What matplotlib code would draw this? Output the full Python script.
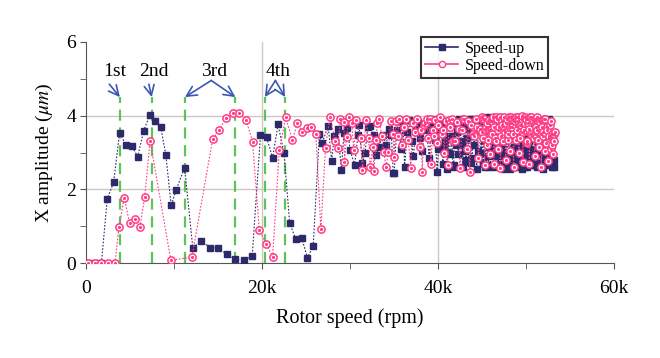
import matplotlib
matplotlib.use("Agg")
import matplotlib.pyplot as plt
from matplotlib.lines import Line2D

plt.rcParams["font.family"] = ["Liberation Serif", "DejaVu Serif"]
plt.rcParams["mathtext.fontset"] = "stix"

# ---- datos (x en miles de rpm, y en micras) ----
up_rpm_k = [0.2, 0.95, 1.7, 2.36, 3.09, 3.77, 4.46, 5.14, 5.83, 6.51, 7.2, 7.85,
            8.46, 9.03, 9.64, 10.2, 11.16, 12.1, 13.07, 14.06, 15.0, 15.96, 16.9,
            17.9, 18.86, 19.8, 20.5, 21.18, 21.8, 22.48, 23.12, 23.8, 24.5, 25.14,
            25.8, 26.5, 26.8, 27.5, 27.9, 28.2, 28.6, 29.0, 29.3, 29.7, 30.0, 30.5,
            30.9, 31.0, 31.4, 31.7, 32.0, 32.3, 32.7, 32.95, 33.3, 33.7, 34.1, 34.4,
            34.7, 34.9,
            35.0, 35.3, 35.5, 35.8, 36.0, 36.2, 36.5, 36.7, 37.0, 37.2, 37.5, 37.7,
            38.0, 38.2, 38.5, 38.7, 39.0, 39.2, 39.5, 39.7, 39.9, 40.2, 40.4, 40.7,
            40.9, 41.2, 41.4, 41.7, 41.9, 42.2, 42.4, 42.7, 42.9, 43.2, 43.4, 43.6,
            43.8, 44.0, 44.3, 44.5, 44.8,
            45.0, 45.15, 45.3, 45.45, 45.6, 45.75, 45.9, 46.05, 46.2, 46.35, 46.5,
            46.65, 46.8, 46.95, 47.1, 47.25, 47.4, 47.55, 47.7, 47.85, 48.0, 48.15,
            48.3, 48.45, 48.6, 48.75, 48.9, 49.05, 49.2, 49.35, 49.5, 49.65, 49.8,
            49.95, 50.1, 50.25, 50.4, 50.55, 50.7, 50.85, 51.0, 51.15, 51.3, 51.45,
            51.6, 51.75, 51.9, 52.05, 52.2, 52.35, 52.5, 52.65, 52.8, 52.95, 53.1,
            53.2]
up_amp = [0.0, 0.0, 0.0, 1.74, 2.19, 3.54, 3.21, 3.18, 2.89, 3.59, 4.01, 3.84,
          3.68, 2.94, 1.57, 1.98, 2.59, 0.42, 0.61, 0.42, 0.42, 0.24, 0.11,
          0.09, 0.2, 3.47, 3.41, 2.86, 3.76, 2.98, 1.09, 0.66, 0.68, 0.15,
          0.47, 3.5, 3.25, 3.72, 2.77, 3.46, 3.64, 2.53, 3.52, 3.66, 3.07, 2.66,
          3.48, 3.75, 2.71, 2.98, 3.7, 3.73, 3.48, 2.93, 3.16, 3.48, 3.2, 3.64,
          3.48, 2.44,
          2.44, 3.62, 3.85, 3.1, 3.75, 2.62, 3.55, 3.88, 3.3, 2.9, 3.7, 3.82,
          3.4, 3.05, 3.78, 3.6, 2.85, 3.72, 3.9, 3.35, 2.48, 3.6, 3.85, 3.15,
          3.7, 3.45, 2.95, 2.62, 3.8, 3.55, 3.9, 3.2, 3.75, 2.8, 3.65, 3.92,
          2.71, 3.5, 3.85, 3.05, 3.7,
          3.9, 2.75, 3.6, 3.3, 3.95, 2.6, 3.8, 3.1, 3.7, 2.9, 3.92,
          3.45, 2.65, 3.85, 3.2, 3.75, 2.7, 3.9, 3.35, 2.95, 3.8, 2.62,
          3.6, 3.05, 3.85, 2.8, 3.5, 3.9, 2.7, 3.3, 3.75, 2.9, 3.65,
          2.6, 3.88, 3.15, 2.75, 3.7, 3.4, 2.65, 3.92, 3.0, 3.6, 2.72,
          3.85, 3.25, 2.68, 3.8, 2.9, 3.55, 2.75, 3.92, 3.1, 2.62, 3.4,
          2.8]
# puntos adicionales de la nube densa (40k-53k)
up_extra_rpm_k = [40.05, 40.3, 40.55, 40.8, 41.05, 41.3, 41.55, 41.8, 42.05, 42.3,
                  42.55, 42.8, 43.05, 43.3, 43.5, 43.7, 43.9, 44.15, 44.4, 44.65,
                  44.9, 45.08, 45.22, 45.38, 45.52, 45.68, 45.82, 45.98, 46.12, 46.28,
                  46.42, 46.58, 46.72, 46.88, 47.02, 47.18, 47.32, 47.48, 47.62, 47.78,
                  47.92, 48.08, 48.22, 48.38, 48.52, 48.68, 48.82, 48.98, 49.12, 49.28,
                  49.42, 49.58, 49.72, 49.88, 50.02, 50.18, 50.32, 50.48, 50.62, 50.78,
                  50.92, 51.08, 51.22, 51.38, 51.52, 51.68, 51.82, 51.98, 52.12, 52.28,
                  52.42, 52.58, 52.72, 52.88, 53.02, 53.15]
up_extra_amp = [3.1, 3.75, 2.7, 3.35, 2.55, 3.0, 3.45, 2.65, 3.2, 2.95,
                3.3, 2.6, 3.05, 3.4, 2.75, 3.9, 2.85, 3.2, 2.55, 3.9,
                3.0, 2.7, 3.35, 2.6, 3.92, 2.9, 3.15, 2.65, 3.9, 3.0,
                2.6, 3.25, 3.85, 2.7, 3.95, 2.9, 3.1, 2.55, 3.92, 3.3,
                2.7, 3.0, 2.55, 3.4, 2.85, 3.15, 2.6, 3.35, 2.9, 2.7,
                3.2, 2.55, 3.05, 3.4, 2.75, 2.6, 3.3, 2.9, 3.1, 2.65,
                2.85, 3.4, 2.6, 3.2, 2.95, 2.7, 3.35, 2.55, 3.1, 2.8,
                3.0, 2.65, 3.3, 2.75, 2.9, 2.6]

down_rpm_k = [0.19, 0.95, 1.71, 2.48, 3.24, 3.7, 4.3, 4.9, 5.5, 6.06, 6.63, 7.24,
              9.6, 12.0, 14.36, 15.12, 15.89, 16.65, 17.4, 18.17, 18.9, 19.66,
              20.46, 21.18, 21.94, 22.67, 23.43, 24.0, 24.57, 25.07, 25.6, 26.1,
              26.67, 27.2, 27.7, 28.3, 28.6, 28.9, 29.3, 29.35, 29.6, 29.9, 30.2,
              30.4, 30.7, 31.2, 31.4, 31.8, 32.1, 32.3, 32.6, 32.7, 32.95, 33.1,
              33.3, 33.6, 33.8, 34.1, 34.35, 34.6, 34.9,
              35.0, 35.2, 35.4, 35.6, 35.9, 36.1, 36.4, 36.6, 36.9, 37.1, 37.4,
              37.6, 37.9, 38.2, 38.4, 38.7, 38.9, 39.2, 39.4, 39.7, 39.9, 40.2,
              40.4, 40.7, 40.9, 41.1, 41.4, 41.6, 41.9, 42.2, 42.5, 42.7, 43.0,
              43.3, 43.6, 43.8, 44.1, 44.3, 44.6, 44.8,
              45.0, 45.15, 45.3, 45.45, 45.6, 45.75, 45.9, 46.05, 46.2, 46.35,
              46.5, 46.65, 46.8, 46.95, 47.1, 47.25, 47.4, 47.55, 47.7, 47.85,
              48.0, 48.15, 48.3, 48.45, 48.6, 48.75, 48.9, 49.05, 49.2, 49.35,
              49.5, 49.65, 49.8, 49.95, 50.1, 50.25, 50.4, 50.55, 50.7, 50.85,
              51.0, 51.15, 51.3, 51.45, 51.6, 51.75, 51.9, 52.05, 52.2, 52.35,
              52.5, 52.65, 52.8, 52.95, 53.1, 53.25]
down_amp = [0.0, 0.0, 0.0, 0.0, 0.0, 0.98, 1.78, 1.09, 1.21, 0.97, 1.8, 3.32,
            0.08, 0.17, 3.36, 3.62, 3.93, 4.08, 4.08, 3.87, 3.29, 0.91,
            0.52, 0.18, 3.07, 3.95, 3.34, 3.79, 3.55, 3.66, 3.68, 3.5,
            0.93, 3.13, 3.97, 3.31, 3.12, 3.91, 3.82, 2.75, 3.43, 3.95, 3.79,
            3.07, 3.88, 3.39, 2.53, 3.88, 3.4, 2.62, 3.16, 2.51, 3.34, 3.79,
            3.91, 3.46, 3.02, 2.62, 3.02, 3.86, 3.5,
            2.89, 3.85, 3.45, 3.92, 3.2, 3.7, 3.9, 3.35, 2.59, 3.8, 3.55,
            3.92, 3.15, 2.48, 3.75, 3.9, 3.4, 2.68, 3.62, 3.88, 3.25, 3.95,
            3.5, 3.0, 3.85, 2.66, 3.7, 3.92, 3.3, 3.82, 2.57, 3.6, 3.9,
            3.1, 2.48, 3.75, 3.45, 3.92, 2.85, 3.65,
            3.55, 3.9, 2.65, 3.7, 3.2, 3.88, 2.95, 3.6, 3.82, 2.7,
            3.4, 3.95, 3.1, 3.7, 2.58, 3.85, 3.3, 3.6, 2.8, 3.92,
            3.5, 3.05, 3.96, 3.7, 2.62, 3.85, 3.35, 3.97, 3.0, 3.75,
            3.9, 2.75, 3.6, 3.95, 3.25, 3.8, 2.68, 3.97, 3.45, 3.88,
            2.9, 3.7, 3.95, 3.15, 3.82, 2.6, 3.55, 3.92, 3.05, 3.7,
            2.78, 3.45, 3.85, 3.2, 2.95, 3.5]
down_extra_rpm_k = [38.05, 38.55, 39.05, 39.55, 40.05, 40.55, 41.25, 41.75, 42.35, 42.85,
                    43.45, 43.95, 44.45, 44.95, 45.08, 45.22, 45.38, 45.52, 45.68, 45.82,
                    45.98, 46.12, 46.28, 46.42, 46.58, 46.72, 46.88, 47.02, 47.18, 47.32,
                    47.48, 47.62, 47.78, 47.92, 48.08, 48.22, 48.38, 48.52, 48.68, 48.82,
                    48.98, 49.12, 49.28, 49.42, 49.58, 49.72, 49.88, 50.02, 50.18, 50.32,
                    50.48, 50.62, 50.78, 50.92, 51.08, 51.22, 51.38, 51.52, 51.68, 51.82,
                    51.98, 52.12, 52.28, 52.42, 52.58, 52.72, 52.88, 53.02, 53.18, 53.3]
down_extra_amp = [3.6, 3.8, 3.9, 3.45, 3.75, 3.6, 3.88, 3.3, 3.65, 3.92,
                  3.85, 3.5, 3.7, 3.95, 3.4, 3.92, 3.65, 3.8, 3.35, 3.6,
                  3.85, 3.5, 3.97, 3.7, 3.3, 3.9, 3.6, 3.95, 3.45, 3.75,
                  3.97, 3.55, 3.8, 3.35, 3.95, 3.7, 3.9, 3.5, 3.85, 3.97,
                  3.6, 3.85, 3.4, 3.75, 3.98, 3.55, 3.8, 3.92, 3.3, 3.65,
                  3.95, 3.5, 3.85, 3.4, 3.9, 3.6, 3.35, 3.85, 3.5, 3.7,
                  3.45, 3.9, 3.25, 3.6, 3.4, 3.75, 3.1, 3.5, 3.3, 3.55]

# velocidades criticas (lineas verdes) y etiquetas
critical_k = [3.8, 7.43, 11.2, 16.95, 20.3, 22.6]
labels = ["1st", "2nd", "3rd", "4th"]
label_x_k = [3.2, 7.7, 14.5, 21.8]
# indices de las lineas a las que apunta cada etiqueta
label_targets = [[0], [1], [2, 3], [4, 5]]

NAVY = "#2c2a6a"
PINK = "#ff3d86"
GREEN = "#5ec45a"
ARROW = "#3b57b0"

# une la serie base con los puntos extra, ordenado por velocidad
up = sorted(zip(up_rpm_k + up_extra_rpm_k, up_amp + up_extra_amp))
down = sorted(zip(down_rpm_k + down_extra_rpm_k, down_amp + down_extra_amp))
up_x, up_y = [p[0] for p in up], [p[1] for p in up]
down_x, down_y = [p[0] for p in down], [p[1] for p in down]

fig = plt.figure(figsize=(6.6, 3.58), dpi=100)
ax = fig.add_axes([0.131, 0.2645, 0.799, 0.619])

# rejilla
for g in [2, 4]:
    ax.axhline(g, color="#cfc7c0", lw=1.0, zorder=0)
for g in [20, 40]:
    ax.axvline(g, color="#cfc7c0", lw=1.0, zorder=0)

# lineas verdes
for c in critical_k:
    ax.plot([c, c], [0, 4.5], color=GREEN, lw=1.6, ls=(0, (5, 3)), zorder=2)

# series (speed-down encima, como en la figura)
ax.plot(up_x, up_y, color=NAVY, lw=0.8, ls=(0, (1.5, 1.5)), zorder=3)
ax.plot(up_x, up_y, ls="none", marker="s", ms=5.0, mfc=NAVY, mec=NAVY,
        zorder=4)
ax.plot(down_x, down_y, color=PINK, lw=0.8, ls=(0, (1.5, 1.5)), zorder=5)
ax.plot(down_x, down_y, ls="none", marker="o", ms=5.2, mfc="white",
        mec=PINK, mew=1.1, zorder=6)
ax.plot(down_x, down_y, ls="none", marker="o", ms=1.3, mfc=PINK,
        mec=PINK, zorder=6)

# etiquetas con flechas
for txt, lx, tg in zip(labels, label_x_k, label_targets):
    ax.text(lx, 5.2, txt, ha="center", va="center", fontsize=14)
    for i in tg:
        if len(tg) == 1:
            start = (lx - 0.6, 4.85)
        else:
            start = (lx - 0.3, 4.95)
        ax.annotate("", xy=(critical_k[i], 4.5), xytext=start,
                    arrowprops=dict(arrowstyle="->", color=ARROW, lw=1.2,
                                    mutation_scale=18, shrinkA=0, shrinkB=0))

ax.set_xlim(0, 60)
ax.set_ylim(0, 6)
ax.set_xticks([0, 20, 40, 60])
ax.set_xticklabels(["0", "20k", "40k", "60k"])
ax.set_xticks([10, 30, 50], minor=True)
ax.set_yticks([0, 2, 4, 6])
ax.set_yticks([1, 3, 5], minor=True)
ax.tick_params(axis="both", which="both", labelsize=14, length=4,
               color="#555555", direction="out")
ax.tick_params(axis="x", pad=8)
for s in ["top", "right"]:
    ax.spines[s].set_visible(False)
for s in ["left", "bottom"]:
    ax.spines[s].set_color("#555555")

ax.set_xlabel("Rotor speed (rpm)", fontsize=14.5, labelpad=8)
ax.set_ylabel(r"X amplitude ($\mu m$)", fontsize=14, labelpad=8)

handles = [
    Line2D([], [], color=NAVY, lw=1.2, marker="s", ms=4.5, mfc=NAVY, mec=NAVY),
    Line2D([], [], color=PINK, lw=1.2, marker="o", ms=4.5, mfc="white", mec=PINK),
]
leg = ax.legend(handles, ["Speed-up", "Speed-down"], loc="upper left",
                bbox_to_anchor=(0.634, 1.021), borderaxespad=0, fontsize=11.5,
                frameon=True, fancybox=False, edgecolor="black",
                handlelength=2.1, borderpad=0.25, labelspacing=0.05,
                handletextpad=0.4)
leg.get_frame().set_linewidth(1.5)

fig.savefig("out.png", dpi=100)
